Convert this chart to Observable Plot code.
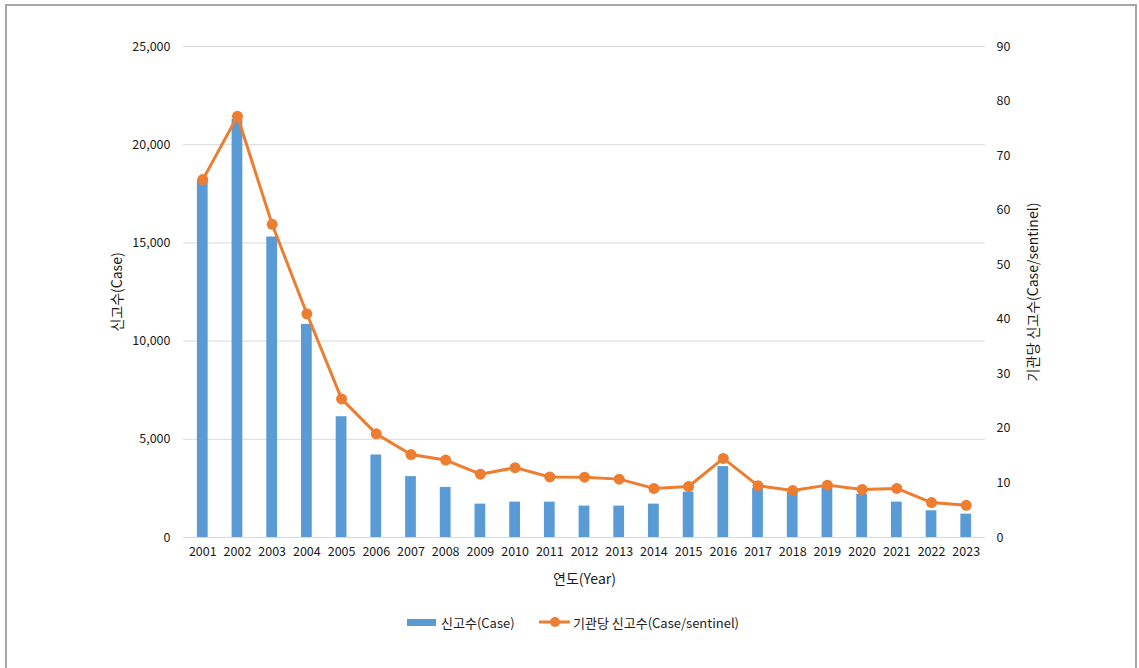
<!DOCTYPE html>
<html>
<head>
<meta charset="utf-8">
<script src="https://cdn.jsdelivr.net/npm/d3@7"></script>
<script src="https://cdn.jsdelivr.net/npm/@observablehq/plot@0.6"></script>
<style>
  html, body { margin: 0; padding: 0; background: #fff; }
  body { width: 1139px; height: 668px; position: relative; overflow: hidden; font-family: "Noto Sans CJK KR", "Noto Sans", sans-serif; }
  #frame { position: absolute; left: 5px; top: 4px; width: 1132px; height: 700px; border: 2px solid #a6a6a6; box-sizing: border-box; pointer-events: none; }
  #chart { position: absolute; left: 0; top: 0; }
  #legend { position: absolute; top: 611px; left: 0; width: 1139px; height: 22px; font-size: 13px; color: #222; }
  .item { position: absolute; top: 0; display: flex; align-items: center; height: 22px; }
</style>
</head>
<body>
<div id="chart"></div>
<div id="legend">
  <div class="item" style="left:407px"><svg width="30" height="10"><rect x="0" y="2" width="29" height="7" fill="#5B9BD5"/></svg><span style="margin-left:4px">신고수(Case)</span></div>
  <div class="item" style="left:539px"><svg width="32" height="14"><line x1="0" y1="7" x2="31" y2="7" stroke="#ED7D31" stroke-width="3"/><circle cx="16" cy="7" r="5" fill="#ED7D31"/></svg><span style="margin-left:2px">기관당 신고수(Case/sentinel)</span></div>
</div>
<div id="frame"></div>
<script>
const years = ["2001","2002","2003","2004","2005","2006","2007","2008","2009","2010","2011","2012","2013","2014","2015","2016","2017","2018","2019","2020","2021","2022","2023"];
const cases = [18200, 21300, 15300, 10850, 6150, 4200, 3100, 2550, 1700, 1800, 1800, 1600, 1600, 1700, 2310, 3610, 2500, 2300, 2550, 2190, 1800, 1360, 1190];
const perSentinel = [65.6, 77.2, 57.4, 41.0, 25.4, 19.0, 15.2, 14.2, 11.6, 12.8, 11.1, 11.05, 10.7, 9.0, 9.35, 14.5, 9.5, 8.6, 9.6, 8.8, 9.0, 6.4, 5.9];
const leftTicks = [0, 5000, 10000, 15000, 20000, 25000];
const rightTicks = [0, 10, 20, 30, 40, 50, 60, 70, 80, 90];

const data = years.map((y, i) => ({year: y, cases: cases[i], rate: perSentinel[i]}));
const k = 25000 / 90;
const fmt = d3.format(",");

const chart = Plot.plot({
  width: 1139,
  height: 600,
  marginTop: 46,
  marginBottom: 63,
  marginLeft: 183,
  marginRight: 154,
  style: {fontFamily: "'Noto Sans CJK KR', 'Noto Sans', sans-serif", fontSize: "12px", color: "#1a1a1a", background: "transparent"},
  x: {type: "band", domain: years, paddingInner: 0.69, paddingOuter: 0.4, align: 0.5, round: false},
  y: {domain: [0, 25000]},
  marks: [
    Plot.gridY(leftTicks, {stroke: "#d9d9d9", strokeOpacity: 1, strokeWidth: 1}),
    Plot.barY(data, {x: "year", y: "cases", fill: "#5B9BD5"}),
    Plot.line(data, {x: "year", y: d => d.rate * k, stroke: "#ED7D31", strokeWidth: 3}),
    Plot.dot(data, {x: "year", y: d => d.rate * k, fill: "#ED7D31", r: 5.5}),
    Plot.axisX({tickSize: 0, tickPadding: 10, fontSize: 12.5, label: null}),
    Plot.axisX({tickSize: 0, ticks: [], label: "연도(Year)", labelAnchor: "center", labelOffset: 46, labelArrow: "none", fontSize: 14}),
    Plot.axisY(leftTicks, {anchor: "left", tickSize: 0, tickPadding: 13, tickFormat: fmt, fontSize: 12.5, label: null}),
    Plot.axisY([], {anchor: "left", tickSize: 0, label: "신고수(Case)", labelAnchor: "center", labelOffset: 71, labelArrow: "none", fontSize: 14}),
    Plot.axisY(rightTicks.map(v => v * k), {anchor: "right", tickSize: 0, tickPadding: 11, tickFormat: d => Math.round(d / k), fontSize: 12.5, label: null}),
    Plot.axisY([], {anchor: "right", tickSize: 0, label: "기관당 신고수(Case/sentinel)", labelAnchor: "center", labelOffset: 52, labelArrow: "none", fontSize: 14})
  ]
});
document.getElementById("chart").appendChild(chart);
</script>
</body>
</html>
